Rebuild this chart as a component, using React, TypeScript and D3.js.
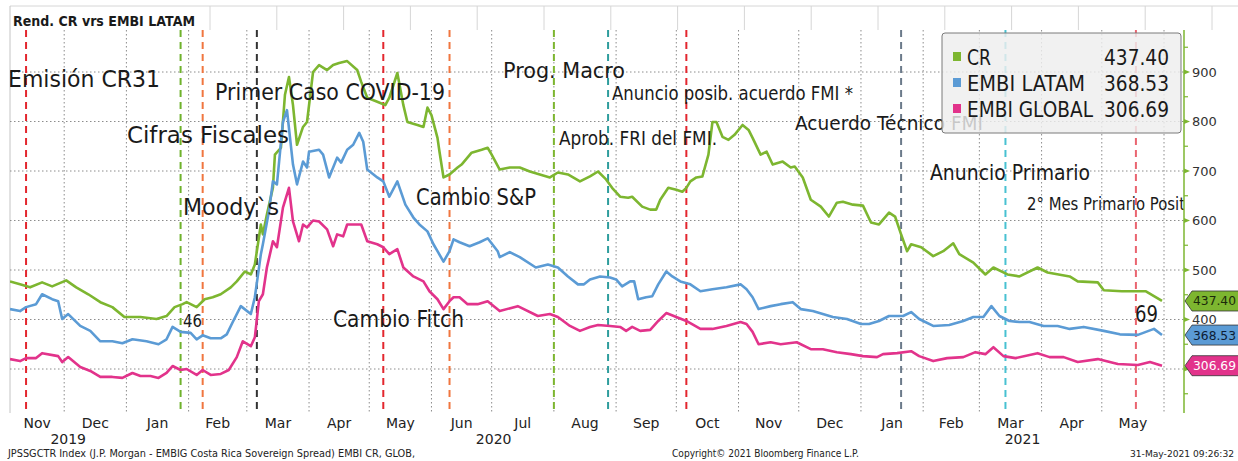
import React from "react";
import * as d3 from "d3";

// ---- data ----
const crSeries: [string, number][] = [
  ["2019-11-04", 477], ["2019-11-09", 471], ["2019-11-14", 465], ["2019-11-20", 475], ["2019-11-25", 467],
  ["2019-12-02", 479], ["2019-12-07", 465], ["2019-12-13", 451], ["2019-12-19", 435], ["2019-12-25", 425],
  ["2019-12-31", 405], ["2020-01-08", 405], ["2020-01-16", 401], ["2020-01-21", 407], ["2020-01-25", 425],
  ["2020-01-29", 431], ["2020-01-31", 435], ["2020-02-05", 425], ["2020-02-09", 441], ["2020-02-13", 445],
  ["2020-02-17", 451], ["2020-02-22", 465], ["2020-02-25", 477], ["2020-02-29", 497], ["2020-03-03", 491],
  ["2020-03-05", 511], ["2020-03-08", 592], ["2020-03-09", 572], ["2020-03-11", 612], ["2020-03-14", 666],
  ["2020-03-15", 733], ["2020-03-18", 747], ["2020-03-20", 854], ["2020-03-22", 890], ["2020-03-24", 833],
  ["2020-03-26", 753], ["2020-03-29", 789], ["2020-03-31", 799], ["2020-04-03", 900], ["2020-04-06", 914],
  ["2020-04-10", 904], ["2020-04-13", 914], ["2020-04-16", 918], ["2020-04-20", 922], ["2020-04-25", 904],
  ["2020-04-27", 880], ["2020-04-30", 848], ["2020-05-05", 840], ["2020-05-09", 833], ["2020-05-11", 848],
  ["2020-05-15", 898], ["2020-05-18", 833], ["2020-05-20", 799], ["2020-05-25", 793], ["2020-05-28", 789],
  ["2020-05-30", 828], ["2020-06-01", 813], ["2020-06-04", 767], ["2020-06-05", 739], ["2020-06-07", 687],
  ["2020-06-10", 693], ["2020-06-14", 707], ["2020-06-16", 713], ["2020-06-21", 737], ["2020-06-26", 743],
  ["2020-06-29", 747], ["2020-07-01", 733], ["2020-07-05", 703], ["2020-07-10", 707], ["2020-07-15", 707],
  ["2020-07-20", 699], ["2020-07-25", 693], ["2020-07-30", 687], ["2020-08-03", 697], ["2020-08-08", 693],
  ["2020-08-14", 679], ["2020-08-19", 689], ["2020-08-23", 699], ["2020-08-27", 683], ["2020-08-30", 666],
  ["2020-09-03", 648], ["2020-09-07", 646], ["2020-09-09", 648], ["2020-09-14", 628], ["2020-09-18", 622],
  ["2020-09-21", 622], ["2020-09-23", 642], ["2020-09-27", 666], ["2020-10-01", 662], ["2020-10-04", 658],
  ["2020-10-06", 666], ["2020-10-08", 679], ["2020-10-11", 687], ["2020-10-14", 689], ["2020-10-17", 733],
  ["2020-10-19", 799], ["2020-10-21", 799], ["2020-10-24", 769], ["2020-10-27", 763], ["2020-10-30", 773],
  ["2020-11-03", 793], ["2020-11-06", 783], ["2020-11-08", 767], ["2020-11-12", 733], ["2020-11-15", 739],
  ["2020-11-18", 713], ["2020-11-23", 719], ["2020-11-27", 707], ["2020-11-29", 709], ["2020-12-03", 687],
  ["2020-12-07", 642], ["2020-12-12", 628], ["2020-12-16", 608], ["2020-12-20", 636], ["2020-12-23", 638],
  ["2020-12-28", 632], ["2021-01-02", 630], ["2021-01-06", 596], ["2021-01-10", 592], ["2021-01-15", 616],
  ["2021-01-18", 608], ["2021-01-21", 572], ["2021-01-24", 538], ["2021-01-26", 552], ["2021-01-31", 546],
  ["2021-02-06", 528], ["2021-02-11", 538], ["2021-02-16", 554], ["2021-02-19", 532], ["2021-02-26", 515],
  ["2021-03-04", 491], ["2021-03-08", 505], ["2021-03-15", 491], ["2021-03-21", 487], ["2021-03-30", 505],
  ["2021-04-04", 495], ["2021-04-15", 487], ["2021-04-19", 477], ["2021-04-29", 475], ["2021-05-02", 459],
  ["2021-05-11", 457], ["2021-05-23", 457], ["2021-05-31", 437.4],
];

const latamSeries: [string, number][] = [
  ["2019-11-04", 421], ["2019-11-09", 417], ["2019-11-12", 425], ["2019-11-17", 431], ["2019-11-20", 451],
  ["2019-11-25", 441], ["2019-11-28", 437], ["2019-11-30", 401], ["2019-12-03", 411], ["2019-12-09", 387],
  ["2019-12-14", 377], ["2019-12-19", 356], ["2019-12-25", 356], ["2019-12-30", 352], ["2020-01-04", 360],
  ["2020-01-11", 356], ["2020-01-17", 350], ["2020-01-21", 360], ["2020-01-24", 385], ["2020-01-28", 375],
  ["2020-02-02", 373], ["2020-02-05", 360], ["2020-02-08", 368], ["2020-02-12", 362], ["2020-02-17", 362],
  ["2020-02-20", 370], ["2020-02-23", 395], ["2020-02-27", 427], ["2020-03-03", 411], ["2020-03-05", 445],
  ["2020-03-08", 532], ["2020-03-09", 552], ["2020-03-12", 618], ["2020-03-14", 679], ["2020-03-16", 673],
  ["2020-03-19", 799], ["2020-03-21", 823], ["2020-03-24", 713], ["2020-03-26", 673], ["2020-03-29", 719],
  ["2020-03-31", 707], ["2020-04-01", 739], ["2020-04-06", 743], ["2020-04-08", 733], ["2020-04-11", 687],
  ["2020-04-15", 727], ["2020-04-17", 717], ["2020-04-20", 743], ["2020-04-23", 753], ["2020-04-26", 777],
  ["2020-04-28", 759], ["2020-04-30", 703], ["2020-05-05", 687], ["2020-05-08", 679], ["2020-05-11", 648],
  ["2020-05-15", 679], ["2020-05-19", 632], ["2020-05-23", 606], ["2020-05-26", 592], ["2020-05-30", 578],
  ["2020-06-02", 552], ["2020-06-04", 538], ["2020-06-07", 517], ["2020-06-10", 538], ["2020-06-12", 562],
  ["2020-06-15", 556], ["2020-06-20", 548], ["2020-06-25", 556], ["2020-06-29", 564], ["2020-07-04", 538],
  ["2020-07-05", 526], ["2020-07-10", 536], ["2020-07-15", 526], ["2020-07-23", 505], ["2020-07-29", 511],
  ["2020-08-03", 505], ["2020-08-08", 487], ["2020-08-13", 471], ["2020-08-16", 471], ["2020-08-19", 481],
  ["2020-08-24", 487], ["2020-08-29", 485], ["2020-09-01", 481], ["2020-09-04", 467], ["2020-09-08", 477],
  ["2020-09-10", 477], ["2020-09-12", 441], ["2020-09-16", 445], ["2020-09-19", 447], ["2020-09-22", 471],
  ["2020-09-26", 497], ["2020-09-29", 487], ["2020-10-03", 477], ["2020-10-08", 471], ["2020-10-13", 457],
  ["2020-10-19", 461], ["2020-10-26", 465], ["2020-11-02", 471], ["2020-11-05", 461], ["2020-11-08", 445],
  ["2020-11-11", 421], ["2020-11-17", 427], ["2020-11-22", 431], ["2020-11-28", 435], ["2020-12-02", 421],
  ["2020-12-08", 417], ["2020-12-18", 405], ["2020-12-25", 401], ["2021-01-01", 391], ["2021-01-05", 391],
  ["2021-01-10", 397], ["2021-01-15", 407], ["2021-01-22", 407], ["2021-01-26", 415], ["2021-01-30", 401],
  ["2021-02-06", 387], ["2021-02-14", 389], ["2021-02-21", 397], ["2021-02-26", 405], ["2021-03-03", 405],
  ["2021-03-07", 427], ["2021-03-11", 407], ["2021-03-16", 397], ["2021-03-21", 395], ["2021-03-26", 395],
  ["2021-04-02", 387], ["2021-04-09", 387], ["2021-04-15", 381], ["2021-04-22", 385], ["2021-05-02", 377],
  ["2021-05-10", 370], ["2021-05-19", 369], ["2021-05-27", 381], ["2021-05-31", 368.53],
];

const globalSeries: [string, number][] = [
  ["2019-11-04", 320], ["2019-11-09", 316], ["2019-11-12", 322], ["2019-11-17", 322], ["2019-11-20", 332],
  ["2019-11-28", 326], ["2019-11-30", 314], ["2019-12-03", 324], ["2019-12-09", 304], ["2019-12-14", 296],
  ["2019-12-19", 284], ["2019-12-25", 284], ["2019-12-30", 282], ["2020-01-04", 292], ["2020-01-08", 286],
  ["2020-01-13", 286], ["2020-01-17", 282], ["2020-01-21", 292], ["2020-01-24", 306], ["2020-01-28", 298],
  ["2020-01-31", 300], ["2020-02-05", 288], ["2020-02-08", 298], ["2020-02-12", 288], ["2020-02-17", 290],
  ["2020-02-21", 298], ["2020-02-25", 324], ["2020-02-28", 356], ["2020-03-03", 346], ["2020-03-05", 364],
  ["2020-03-07", 437], ["2020-03-09", 451], ["2020-03-11", 505], ["2020-03-14", 558], ["2020-03-16", 546],
  ["2020-03-19", 626], ["2020-03-22", 666], ["2020-03-24", 598], ["2020-03-27", 558], ["2020-03-29", 592],
  ["2020-03-31", 586], ["2020-04-03", 600], ["2020-04-06", 598], ["2020-04-10", 582], ["2020-04-13", 548],
  ["2020-04-15", 572], ["2020-04-18", 568], ["2020-04-20", 592], ["2020-04-25", 592], ["2020-04-27", 592],
  ["2020-04-30", 558], ["2020-05-05", 552], ["2020-05-08", 546], ["2020-05-11", 532], ["2020-05-15", 542],
  ["2020-05-18", 505], ["2020-05-23", 487], ["2020-05-28", 477], ["2020-05-31", 457], ["2020-06-04", 441],
  ["2020-06-07", 421], ["2020-06-10", 437], ["2020-06-12", 445], ["2020-06-15", 445], ["2020-06-19", 431],
  ["2020-06-24", 431], ["2020-06-29", 437], ["2020-07-05", 417], ["2020-07-14", 427], ["2020-07-24", 407],
  ["2020-07-30", 411], ["2020-08-03", 405], ["2020-08-09", 387], ["2020-08-14", 377], ["2020-08-19", 385],
  ["2020-08-23", 389], ["2020-08-29", 387], ["2020-09-03", 385], ["2020-09-06", 377], ["2020-09-09", 385],
  ["2020-09-13", 377], ["2020-09-18", 379], ["2020-09-22", 397], ["2020-09-26", 413], ["2020-10-01", 405],
  ["2020-10-06", 397], ["2020-10-13", 381], ["2020-10-19", 381], ["2020-10-26", 387], ["2020-11-02", 395],
  ["2020-11-05", 391], ["2020-11-08", 375], ["2020-11-11", 350], ["2020-11-17", 354], ["2020-11-22", 350],
  ["2020-11-30", 354], ["2020-12-07", 340], ["2020-12-13", 340], ["2020-12-20", 334], ["2020-12-27", 330],
  ["2021-01-02", 326], ["2021-01-09", 324], ["2021-01-12", 330], ["2021-01-19", 332], ["2021-01-26", 336],
  ["2021-01-30", 326], ["2021-02-06", 316], ["2021-02-13", 322], ["2021-02-21", 324], ["2021-02-27", 334],
  ["2021-03-04", 330], ["2021-03-08", 344], ["2021-03-13", 326], ["2021-03-19", 322], ["2021-03-30", 332],
  ["2021-04-05", 324], ["2021-04-12", 324], ["2021-04-19", 314], ["2021-04-29", 320], ["2021-05-09", 310],
  ["2021-05-19", 308], ["2021-05-25", 314], ["2021-05-31", 306.69],
];

const seriesNames = ["CR", "EMBI LATAM", "EMBI GLOBAL"];
const lastValues = ["437.40", "368.53", "306.69"];

const eventDates = [
  "2019-11-12", "2020-01-28", "2020-02-08", "2020-03-06", "2020-05-08", "2020-06-10",
  "2020-08-01", "2020-08-28", "2020-10-06", "2021-01-21", "2021-03-14", "2021-05-18",
];

const annotationTexts = [
  "Emisión CR31", "Primer Caso COVID-19", "Cifras Fiscales", "Moody`s", "46", "Cambio Fitch",
  "Cambio S&P", "Prog. Macro", "Anuncio posib. acuerdo FMI *", "Aprob. FRI del FMI.",
  "Acuerdo Técnico FMI", "Anuncio Primario", "2° Mes Primario Positivo", "69",
];

const yGridTicks = [300, 400, 500, 600, 700, 800, 900];
const yLabelTicks = [400, 500, 600, 700, 800, 900];
const yMinorTicks = [250, 350, 450, 550, 650, 750, 850, 950];
const yearLabels = ["2019", "2020", "2021"];
const title = "Rend. CR vrs EMBI LATAM";
const footerTexts = [
  "JPSSGCTR Index (J.P. Morgan - EMBIG Costa Rica Sovereign Spread) EMBI CR, GLOB,",
  "Copyright\u00A9 2021 Bloomberg Finance L.P.",
  "31-May-2021 09:26:32",
];

// ---- styles / layout ----
const W = 1238;
const H = 461;
const FONT = "DejaVu Sans";
const seriesColors = ["#7db630", "#5b9bd5", "#e2338b"];
const tagTextColors = ["#1b2a0a", "#0d1d35", "#ffffff"];
const eventColors = [
  "#e3262e", "#6fb22c", "#f0763f", "#333333", "#e3262e", "#f0763f",
  "#7db630", "#2e9d9d", "#e3262e", "#6b7a8a", "#48c1d2", "#ea6470",
];
const annotLayout = [
  { x: 8, y: 87, size: 23, len: 152 },
  { x: 215, y: 100, size: 23, len: 230 },
  { x: 127, y: 143, size: 23, len: 162 },
  { x: 183, y: 215, size: 23, len: 96 },
  { x: 183, y: 327, size: 18, len: 19 },
  { x: 333, y: 327, size: 23, len: 131 },
  { x: 416, y: 205, size: 23, len: 120 },
  { x: 503, y: 78, size: 22, len: 122 },
  { x: 612, y: 100, size: 19, len: 241 },
  { x: 559, y: 145, size: 19, len: 158 },
  { x: 795, y: 130, size: 20, len: 188 },
  { x: 930, y: 180, size: 20.5, len: 160 },
  { x: 1027, y: 210, size: 17.5, len: 180 },
  { x: 1135, y: 322, size: 23, len: 23 },
];
const legendNameLen = [24, 118, 126];

const plot = { left: 10, right: 1184, top: 30, bottom: 413 };

const parse = d3.timeParse("%Y-%m-%d");

export default function App() {
  const x = d3
    .scaleTime()
    .domain([parse("2019-11-04")!, parse("2021-05-31")!])
    .range([10, 1162]);
  const y = d3.scaleLinear().domain([300, 900]).range([369, 72]);

  const allSeries = [crSeries, latamSeries, globalSeries].map((s) =>
    s.map(([d, v]) => [parse(d)!, v] as [Date, number])
  );

  const line = d3
    .line<[Date, number]>()
    .x((d) => x(d[0]))
    .y((d) => y(d[1]));

  const startDate = x.domain()[0];
  const endDate = x.invert(plot.right);
  const monthStarts = d3.timeMonth.range(d3.timeMonth.ceil(startDate), endDate);
  const monthSpans = d3.timeMonth
    .range(d3.timeMonth.floor(startDate), d3.timeMonth.floor(x.domain()[1]))
    .concat([d3.timeMonth.floor(x.domain()[1])]);
  const fmtMonth = d3.timeFormat("%b");

  const yearCenters = yearLabels.map((yr) => {
    const a = new Date(+yr, 0, 1);
    const b = new Date(+yr + 1, 0, 1);
    const x0 = Math.max(x(a), plot.left);
    const x1 = Math.min(x(b), plot.right);
    return (x0 + x1) / 2;
  });

  const headerLines = d3.range(210, W, 66.8);

  return (
    <div style={{ position: "absolute", left: 0, top: 0 }}>
      <svg width={W} height={H} style={{ display: "block", background: "#fff" }} fontFamily={FONT}>
        <defs>
          <clipPath id="plotClip">
            <rect x={plot.left} y={plot.top} width={plot.right - plot.left} height={plot.bottom - plot.top} />
          </clipPath>
        </defs>

        {/* header strip */}
        <line x1={10} x2={W} y1={6} y2={6} stroke="#d6d6d6" />
        {headerLines.map((hx, i) => (
          <line key={i} x1={hx} x2={hx} y1={6} y2={30} stroke="#d6d6d6" />
        ))}
        <line x1={10} x2={10} y1={6} y2={plot.bottom} stroke="#c4c4c4" />
        <text x={13} y={26} fontSize={13.5} fontWeight="bold" fill="#1a1a1a" textLength={182} lengthAdjust="spacingAndGlyphs">
          {title}
        </text>

        {/* grid */}
        {yGridTicks.map((t) => (
          <line key={t} x1={plot.left} x2={plot.right} y1={y(t)} y2={y(t)} stroke="#8c8c8c" strokeDasharray="1.5,2.5" />
        ))}
        {monthStarts.map((d, i) => (
          <line key={i} x1={x(d)} x2={x(d)} y1={plot.top} y2={plot.bottom} stroke="#8c8c8c" strokeDasharray="1.5,2.5" />
        ))}

        {/* event markers */}
        {eventDates.map((d, i) => (
          <line
            key={d}
            x1={x(parse(d)!)}
            x2={x(parse(d)!)}
            y1={plot.top}
            y2={plot.bottom}
            stroke={eventColors[i]}
            strokeWidth={2}
            strokeDasharray="7,5"
          />
        ))}

        {/* series */}
        <g clipPath="url(#plotClip)">
          {allSeries.map((s, i) => (
            <path key={i} d={line(s) || ""} fill="none" stroke={seriesColors[i]} strokeWidth={2.6} strokeLinejoin="round" />
          ))}
        </g>

        {/* annotations */}
        <g clipPath="url(#plotClip)">
          {annotationTexts.map((t, i) => {
            const a = annotLayout[i];
            return (
              <text key={i} x={a.x} y={a.y} fontSize={a.size} fill="#1a1a1a" textLength={a.len} lengthAdjust="spacingAndGlyphs">
                {t}
              </text>
            );
          })}
        </g>

        {/* legend */}
        <rect x={942} y={33} width={239} height={100} rx={3} fill="#eeeeee" fillOpacity={0.82} stroke="#7a7a7a" />
        {seriesNames.map((n, i) => {
          const by = 65 + i * 26;
          return (
            <g key={n}>
              <rect x={953} y={by - 13} width={8} height={9} fill={seriesColors[i]} />
              <text x={967} y={by} fontSize={21} fill="#1a1a1a" textLength={legendNameLen[i]} lengthAdjust="spacingAndGlyphs">
                {n}
              </text>
              <text x={1104} y={by} fontSize={21} fill="#1a1a1a" textLength={65} lengthAdjust="spacingAndGlyphs">
                {lastValues[i]}
              </text>
            </g>
          );
        })}

        {/* right axis */}
        <line x1={plot.right} x2={plot.right} y1={plot.top} y2={plot.bottom} stroke={seriesColors[0]} strokeWidth={1.5} />
        {yMinorTicks.map((t) => (
          <line key={t} x1={plot.right} x2={plot.right + 4} y1={y(t)} y2={y(t)} stroke={seriesColors[0]} strokeWidth={1.2} />
        ))}
        {yGridTicks.map((t) => (
          <path key={t} d={`M${plot.right},${y(t) - 2.5}L${plot.right + 6},${y(t)}L${plot.right},${y(t) + 2.5}Z`} fill={seriesColors[0]} />
        ))}
        {yLabelTicks.map((t) => (
          <text key={t} x={1192} y={y(t) + 4.5} fontSize={13} fill="#333">
            {t}
          </text>
        ))}

        {/* last value tags */}
        {lastValues.map((v, i) => {
          const cy = y(+v);
          return (
            <g key={v}>
              <path
                d={`M1185,${cy}L1192,${cy - 10}L1240,${cy - 10}L1240,${cy + 10}L1192,${cy + 10}Z`}
                fill={seriesColors[i]}
                stroke="#333"
                strokeWidth={0.8}
              />
              <text x={1193} y={cy + 4.5} fontSize={12.5} fill={tagTextColors[i]} textLength={43} lengthAdjust="spacingAndGlyphs">
                {v}
              </text>
            </g>
          );
        })}

        {/* x axis labels */}
        {monthSpans.map((d, i) => {
          const x0 = Math.max(x(d), plot.left);
          const x1 = Math.min(x(d3.timeMonth.offset(d, 1)), plot.right);
          return (
            <text key={i} x={(x0 + x1) / 2} y={428} fontSize={14} fill="#222" textAnchor="middle">
              {fmtMonth(d)}
            </text>
          );
        })}
        {yearLabels.map((yr, i) => (
          <text key={yr} x={yearCenters[i]} y={444} fontSize={14} fill="#222" textAnchor="middle">
            {yr}
          </text>
        ))}

        {/* footer */}
        <text x={8} y={457} fontSize={10} fill="#222" textLength={407} lengthAdjust="spacingAndGlyphs">
          {footerTexts[0]}
        </text>
        <text x={672} y={457} fontSize={10} fill="#222" textLength={187} lengthAdjust="spacingAndGlyphs">
          {footerTexts[1]}
        </text>
        <text x={1130} y={457} fontSize={9.5} fill="#222" textLength={104} lengthAdjust="spacingAndGlyphs">
          {footerTexts[2]}
        </text>
      </svg>
    </div>
  );
}
